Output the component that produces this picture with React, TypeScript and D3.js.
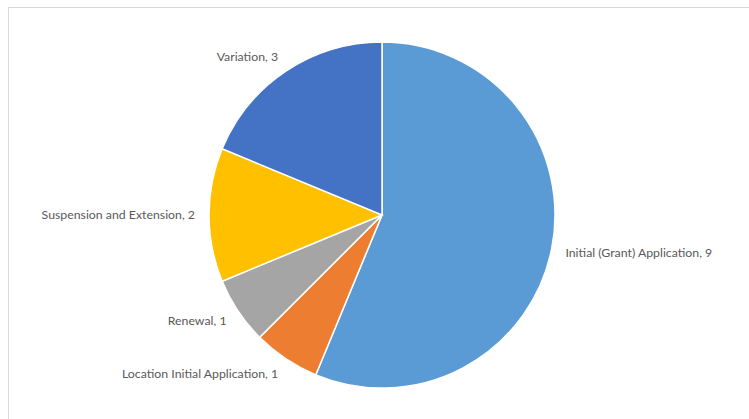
import * as d3 from 'd3';
import { useEffect, useRef } from 'react';

const categories = [
  'Initial (Grant) Application',
  'Location Initial Application',
  'Renewal',
  'Suspension and Extension',
  'Variation',
];
const counts = [9, 1, 1, 2, 3];
const colors = ['#5B9BD5', '#ED7D31', '#A5A5A5', '#FFC000', '#4472C4'];

const W = 749;
const H = 419;

export default function App() {
  const svgRef = useRef<SVGSVGElement>(null);

  useEffect(() => {
    if (!svgRef.current) return;
    const svg = d3.select(svgRef.current);
    svg.selectAll('*').remove();

    // chart frame (runs past the right/bottom edge in the reference)
    svg.append('rect')
      .attr('x', 8.5)
      .attr('y', 7.5)
      .attr('width', 900)
      .attr('height', 600)
      .attr('fill', '#fff')
      .attr('stroke', '#D9D9D9');

    const cx = 382;
    const cy = 215;
    const r = 173;

    const data = categories.map((c, i) => ({ name: c, value: counts[i], color: colors[i] }));
    const pie = d3.pie<typeof data[number]>().value(d => d.value).sort(null);
    const arcs = pie(data);
    const arc = d3.arc<d3.PieArcDatum<typeof data[number]>>().innerRadius(0).outerRadius(r);

    const g = svg.append('g').attr('transform', `translate(${cx},${cy})`);

    g.selectAll('path')
      .data(arcs)
      .join('path')
      .attr('d', arc)
      .attr('fill', d => d.data.color)
      .attr('stroke', '#fff')
      .attr('stroke-width', 1.5);

    // outside-end labels
    g.selectAll('text')
      .data(arcs)
      .join('text')
      .each(function (d) {
        const a = (d.startAngle + d.endAngle) / 2;
        const s = Math.sin(a);
        const c = Math.cos(a);
        const lr = r + 14;
        const x = s * lr;
        const y = -c * lr - c * 4;
        d3.select(this)
          .attr('x', x)
          .attr('y', y)
          .attr('dy', '0.35em')
          .attr('text-anchor', s >= 0 ? 'start' : 'end');
      })
      .style('font-family', 'Lato, "Liberation Sans", sans-serif')
      .style('font-size', '12.3px')
      .style('fill', '#595959')
      .text(d => `${d.data.name}, ${d.data.value}`);
  }, []);

  return (
    <div style={{ position: 'fixed', left: 0, top: 0 }}>
      <svg ref={svgRef} width={W} height={H} style={{ display: 'block' }} />
    </div>
  );
}
